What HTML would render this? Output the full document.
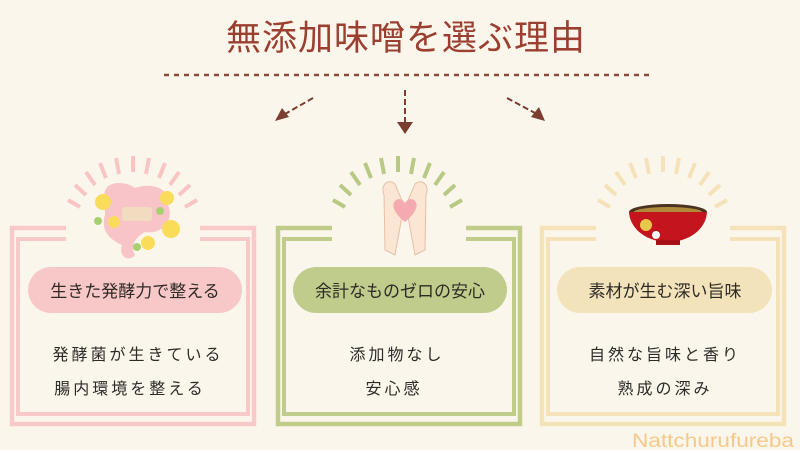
<!DOCTYPE html>
<html><head><meta charset="utf-8"><style>
body{margin:0;background:#fbf6ec;}
svg{display:block}
text{font-family:"Liberation Sans","Noto Sans CJK JP",sans-serif;}
</style></head><body>
<svg width="800" height="450" viewBox="0 0 800 450" xmlns="http://www.w3.org/2000/svg">
<rect width="800" height="450" fill="#fbf6ec"/>
<text x="406" y="50" font-size="35" fill="#9b3f30" text-anchor="middle" letter-spacing="1">無添加味噌を選ぶ理由</text>
<line x1="164" y1="75" x2="650" y2="75" stroke="#8b4a3a" stroke-width="2.5" stroke-dasharray="5,5"/>
<g stroke="#7a3f30" stroke-width="2" stroke-dasharray="6,3" fill="none">
<line x1="313" y1="98" x2="285" y2="114"/>
<line x1="405" y1="90" x2="405" y2="122"/>
<line x1="507" y1="98" x2="535" y2="113"/>
</g>
<g fill="#7a3f30">
<polygon points="275,121 282,108 289,117"/>
<polygon points="397,122 413,122 405,134"/>
<polygon points="545,121 531,117 539,107"/>
</g>
<g fill="none" stroke-width="4.5">
<g stroke="#f8c9c9">
<path d="M66,228 H12 V424 H254 V228 H200"/>
<path d="M66,239 H18 V414 H248 V239 H200" stroke-width="4"/>
</g>
<g stroke="#bfcc8a">
<path d="M332,228 H278 V424 H520 V228 H466"/>
<path d="M332,239 H284 V414 H514 V239 H466" stroke-width="4"/>
</g>
<g stroke="#f5e2b8">
<path d="M596,228 H542 V424 H784 V228 H730"/>
<path d="M596,239 H548 V414 H778 V239 H730" stroke-width="4"/>
</g>
</g>
<g stroke-width="4" stroke-linecap="butt">
<g stroke="#f8c4c4">
<line x1="133" y1="172" x2="133" y2="156"/>
<line x1="119" y1="174" x2="116" y2="158"/>
<line x1="146" y1="174" x2="149" y2="158"/>
<line x1="106" y1="178" x2="100" y2="163"/>
<line x1="159" y1="178" x2="165" y2="163"/>
<line x1="95" y1="185" x2="86" y2="172"/>
<line x1="170" y1="185" x2="179" y2="172"/>
<line x1="86" y1="195" x2="75" y2="185"/>
<line x1="179" y1="195" x2="190" y2="185"/>
<line x1="80" y1="207" x2="68" y2="200"/>
<line x1="185" y1="207" x2="197" y2="200"/>
</g>
<g stroke="#b8c983" transform="translate(265,0)">
<line x1="133" y1="172" x2="133" y2="156"/>
<line x1="119" y1="174" x2="116" y2="158"/>
<line x1="146" y1="174" x2="149" y2="158"/>
<line x1="106" y1="178" x2="100" y2="163"/>
<line x1="159" y1="178" x2="165" y2="163"/>
<line x1="95" y1="185" x2="86" y2="172"/>
<line x1="170" y1="185" x2="179" y2="172"/>
<line x1="86" y1="195" x2="75" y2="185"/>
<line x1="179" y1="195" x2="190" y2="185"/>
<line x1="80" y1="207" x2="68" y2="200"/>
<line x1="185" y1="207" x2="197" y2="200"/>
</g>
<g stroke="#f5e2b8" transform="translate(530,0)">
<line x1="133" y1="172" x2="133" y2="156"/>
<line x1="119" y1="174" x2="116" y2="158"/>
<line x1="146" y1="174" x2="149" y2="158"/>
<line x1="106" y1="178" x2="100" y2="163"/>
<line x1="159" y1="178" x2="165" y2="163"/>
<line x1="95" y1="185" x2="86" y2="172"/>
<line x1="170" y1="185" x2="179" y2="172"/>
<line x1="86" y1="195" x2="75" y2="185"/>
<line x1="179" y1="195" x2="190" y2="185"/>
<line x1="80" y1="207" x2="68" y2="200"/>
<line x1="185" y1="207" x2="197" y2="200"/>
</g>
</g>
<g>
<path d="M105,200 C100,180 125,180 135,188 C150,182 172,188 168,205 C175,222 160,235 145,232 C135,238 130,245 135,255 C130,262 118,258 122,245 C110,240 100,230 105,215 Z" fill="#f8c4c8"/>
<rect x="122" y="207" width="30" height="14" rx="3" fill="#f2dcc0"/>
<g fill="#f8dc5a"><circle cx="103" cy="202" r="8"/><circle cx="167" cy="198" r="7"/><circle cx="171" cy="229" r="9"/><circle cx="148" cy="243" r="7"/><circle cx="114" cy="222" r="6"/></g>
<g fill="#a8d070"><circle cx="98" cy="221" r="4"/><circle cx="160" cy="211" r="4"/><circle cx="137" cy="247" r="4"/></g>
</g>
<g>
<path d="M384,195 C380,185 388,178 395,184 L404,205 L395,255 L385,250 Z" fill="#fbe6d4" stroke="#e7bfa6"/>
<path d="M426,195 C430,185 422,178 415,184 L406,205 L415,255 L425,250 Z" fill="#fbe6d4" stroke="#e7bfa6"/>
<path d="M405,222 C395,214 390,205 396,200 C401,197 405,202 405,204 C405,202 409,197 414,200 C420,205 415,214 405,222 Z" fill="#f5a9b0"/>
</g>
<g>
<ellipse cx="668" cy="212" rx="39" ry="8" fill="#4a3320"/>
<ellipse cx="668" cy="212" rx="34" ry="5" fill="#b08a3a"/>
<path d="M629,212 C630,230 648,242 668,242 C688,242 706,230 707,212 Z" fill="#c4141e"/>
<rect x="656" y="240" width="24" height="5" fill="#a80f18"/>
<circle cx="646" cy="225" r="6" fill="#e8c84a"/>
<circle cx="656" cy="235" r="4" fill="#fff"/>
</g>
<rect x="28" y="267" width="214" height="46" rx="23" fill="#f8c8c8"/>
<rect x="293" y="267" width="214" height="46" rx="23" fill="#bfcc8c"/>
<rect x="557" y="267" width="215" height="46" rx="23" fill="#f3e3bb"/>
<g font-size="17" fill="#2e2a26" text-anchor="middle">
<text x="135" y="297">生きた発酵力で整える</text>
<text x="400" y="297">余計なものゼロの安心</text>
<text x="665" y="297">素材が生む深い旨味</text>
</g>
<g font-size="16" fill="#2e2a26" text-anchor="middle" letter-spacing="3">
<text x="138" y="360">発酵菌が生きている</text>
<text x="130" y="394">腸内環境を整える</text>
<text x="397" y="360">添加物なし</text>
<text x="394" y="394">安心感</text>
<text x="665" y="360">自然な旨味と香り</text>
<text x="665" y="394">熟成の深み</text>
</g>
<text x="632" y="447" font-size="19" fill="#f6c98a" textLength="162" lengthAdjust="spacingAndGlyphs">Nattchurufureba</text>
</svg>
</body></html>
